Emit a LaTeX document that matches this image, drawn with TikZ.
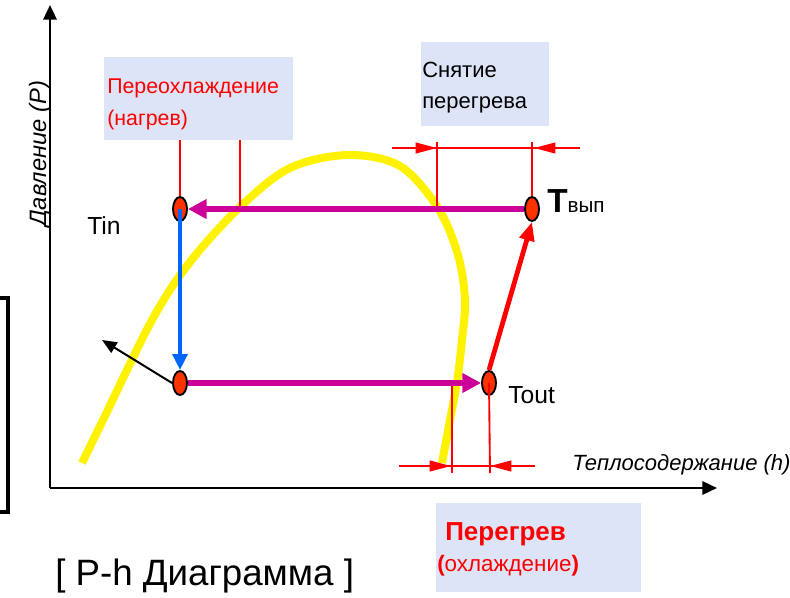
\documentclass[tikz,border=0pt]{standalone}
\usepackage{fontspec}
\setmainfont{Liberation Sans}
\usetikzlibrary{arrows.meta,shapes.geometric}
\definecolor{boxblue}{RGB}{222,228,247}
\definecolor{cyclemag}{RGB}{204,0,153}
\definecolor{dotred}{RGB}{255,51,0}
\definecolor{lineblue}{RGB}{0,102,255}
\tikzset{
  dotpt/.style={ellipse,draw=black,line width=1.4pt,fill=dotred,inner sep=0pt,
    minimum width=10.5pt,minimum height=18pt},
  axis/.style={line width=1.8pt,-{Triangle[length=11pt,width=10pt]}},
  magline/.style={cyclemag,line width=4.5pt,-{Triangle[length=14pt,width=14pt]}},
  dim/.style={red,line width=1.4pt},
  dimarrow/.style={red,line width=1.4pt,-{Triangle[length=16pt,width=8pt]}},
  lbl/.style={anchor=base west,inner sep=0pt}
}
\begin{document}
\begin{tikzpicture}[x=0.75pt,y=-0.75pt,font=\fontsize{16.5}{19}\selectfont]
  \useasboundingbox (0,0) rectangle (790,597);
  % label boxes
  \fill[boxblue] (104,57) rectangle (293,140);
  \fill[boxblue] (421,42) rectangle (549,126);
  \fill[boxblue] (436,503) rectangle (641,592);
  % axes
  \coordinate (o) at (50,488);
  \coordinate (ptop) at (50,5);
  \coordinate (hend) at (717,488);
  \draw[axis] (o) -- (ptop);
  \draw[axis] (o) -- (hend);
  \node[lbl,rotate=90,font=\fontsize{17.8}{20}\selectfont\itshape] (plab) at (46,227) {Давление (P)};
  \node[lbl,font=\fontsize{16.5}{19}\selectfont\itshape] (hlab) at (572,470) {Теплосодержание (h)};
  % saturation curve
  \draw[yellow,line width=6pt] plot[smooth,tension=0.55] coordinates {(82,463) (103,420) (152,320)
    (190,262) (240,207) (290,168) (348,155) (400,166) (438,208) (458,255) (465,300)
    (462,340) (457,382) (450,420) (442,463)};
  % cycle points
  \node[dotpt] (tin) at (180,209) {};
  \node[dotpt] (low) at (180,383) {};
  \node[dotpt] (tout) at (489,383) {};
  \node[dotpt] (tvyp) at (532,209) {};
  \coordinate (exp) at (102,340);
  % red dimension lines
  \draw[dim] (tin.north |- 0,140) -- (tin.north);
  \draw[dim] (240,140) -- (240,207);
  \draw[dim] (437,142) -- (437,206);
  \draw[dim] (tvyp.north |- 0,142) -- (tvyp.north);
  \draw[dim] (392,148) -- (580,148);
  \draw[dimarrow] (392,148) -- (437,148);
  \draw[dimarrow] (580,148) -- (534,148);
  \draw[dim] (452,383) -- (452,473);
  \draw[dim] (tout.center) -- (490,473);
  \draw[dim] (399,466) -- (535,466);
  \draw[dimarrow] (399,466) -- (451,466);
  \draw[dimarrow] (535,466) -- (490,466);
  % cycle lines
  \draw[magline] (tvyp.west) -- (tin.east);
  \draw[lineblue,line width=3pt,-{Triangle[length=12pt,width=11pt]}] (tin.center) -- (low.north);
  \draw[magline] (low.east) -- (tout.west);
  \draw[red,line width=3.6pt,-{Triangle[length=14pt,width=11pt]}] (tout.north) -- (tvyp.south);
  \draw[black,line width=1.5pt,-{Triangle[length=11pt,width=9pt]}] (low.west) -- (exp);
  % texts
  \node[lbl,text=red,font=\fontsize{16}{19}\selectfont] (sub1) at (107,93) {Переохлаждение};
  \node[lbl,text=red,font=\fontsize{16}{19}\selectfont] (sub2) at (107,125) {(нагрев)};
  \node[lbl] (sup1) at (422,77) {Снятие};
  \node[lbl] (sup2) at (422,108) {перегрева};
  \node[lbl,font=\fontsize{18.5}{21}\selectfont] (tinlab) at (87,234) {Tin};
  \node[lbl,font=\fontsize{18.5}{21}\selectfont] (toutlab) at (508,403) {Tout};
  \node[lbl,font=\fontsize{15.5}{18}\selectfont] (tvyplab) at (547,212) {{\fontsize{25}{27}\selectfont\bfseries T}вып};
  \node[lbl,text=red,font=\fontsize{19.5}{22}\selectfont\bfseries] (sh1) at (445,540) {Перегрев};
  \node[lbl,text=red,font=\fontsize{16.8}{20}\selectfont] (sh2) at (437,571) {{\bfseries (}охлаждение{\bfseries )}};
  \node[lbl,font=\fontsize{27.5}{30}\selectfont] (title) at (55,585) {[ P-h Диаграмма ]};
  % left bracket
  \draw[line width=3pt] (0,298) -- (8,298) -- (8,512) -- (0,512);
\end{tikzpicture}
\end{document}
